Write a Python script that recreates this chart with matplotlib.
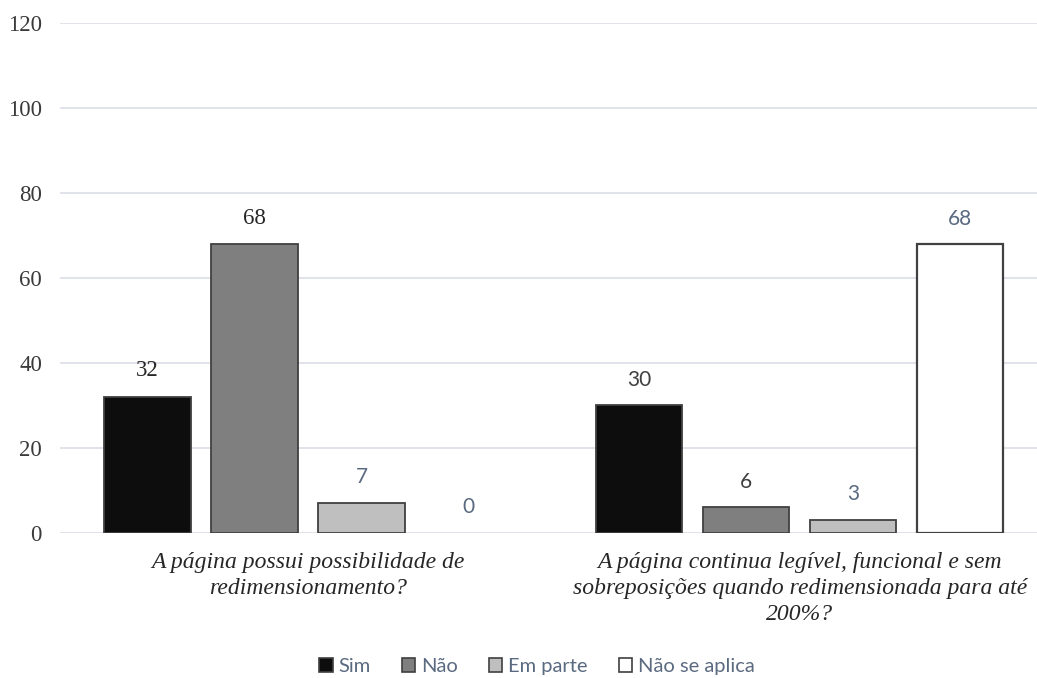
import numpy as np
import matplotlib
matplotlib.use("Agg")
import matplotlib.pyplot as plt
from matplotlib.patches import Patch

# Questions on the x axis
categories = [
    "A página possui possibilidade de\nredimensionamento?",
    "A página continua legível, funcional e sem\nsobreposições quando redimensionada para até\n200%?",
]
series_names = ["Sim", "Não", "Em parte", "Não se aplica"]
sim = [32, 30]
nao = [68, 6]
em_parte = [7, 3]
nao_se_aplica = [0, 68]

series_values = [sim, nao, em_parte, nao_se_aplica]
fill_colors = ["#0d0d0d", "#7f7f7f", "#bfbfbf", "#ffffff"]
edge_color = "#404040"
grid_color = "#dde1e8"
bluegray = "#5a6a80"

# label style per series and group: (font family, colour, size)
serif_dark = (["Liberation Serif"], "#262626", 16.5)
sans_dark = (["Lato"], "#404040", 15)
sans_blue = (["Lato"], bluegray, 15)
label_styles = [
    [serif_dark, sans_dark],
    [serif_dark, sans_dark],
    [sans_blue, sans_blue],
    [sans_blue, sans_blue],
]

fig = plt.figure(figsize=(10.37, 6.78), dpi=100)
ax = fig.add_axes([0.0579, 0.2146, 0.9421, 0.7514])

x = np.arange(len(categories))
step = 0.2175
width = 0.175

for i, (vals, col) in enumerate(zip(series_values, fill_colors)):
    pos = x + (i - 1.5) * step
    lw = 1.3 if col != "#ffffff" else 1.6
    bars = ax.bar(pos, vals, width=width, color=col, edgecolor=edge_color,
                  linewidth=lw, zorder=3)
    # the zero bar draws nothing
    for b, v in zip(bars, vals):
        if v == 0:
            b.set_visible(False)
    for j, (p, v) in enumerate(zip(pos, vals)):
        fam, c, size = label_styles[i][j]
        ax.text(p, v + 3.6, str(v), ha="center", va="bottom",
                family=fam, color=c, fontsize=size, zorder=4)

ax.set_xlim(-0.504, 1.482)
ax.set_ylim(0, 120)
ax.set_yticks(range(0, 121, 20))
ax.yaxis.grid(True, color=grid_color, linewidth=1.3, zorder=0)
ax.set_axisbelow(True)
for s in ax.spines.values():
    s.set_visible(False)
ax.tick_params(axis="y", length=0, pad=13, labelsize=16.5, labelcolor="#3a3a3a")
for t in ax.get_yticklabels():
    t.set_family("Liberation Serif")

ax.set_xticks(x)
ax.set_xticklabels(categories, family="Liberation Serif", style="italic",
                   fontsize=17, color="#262626", linespacing=1.32)
ax.tick_params(axis="x", length=0, pad=14)

handles = [Patch(facecolor=c, edgecolor=edge_color, linewidth=1.2) for c in fill_colors]
fig.legend(handles, series_names, loc="center", bbox_to_anchor=(0.518, 0.017),
           ncol=4, frameon=False, handlelength=0.65, handleheight=0.65,
           handletextpad=0.3, columnspacing=1.55,
           prop={"family": "Lato", "size": 14.5}, labelcolor=bluegray)

fig.savefig("out.png", dpi=100, facecolor="white")
